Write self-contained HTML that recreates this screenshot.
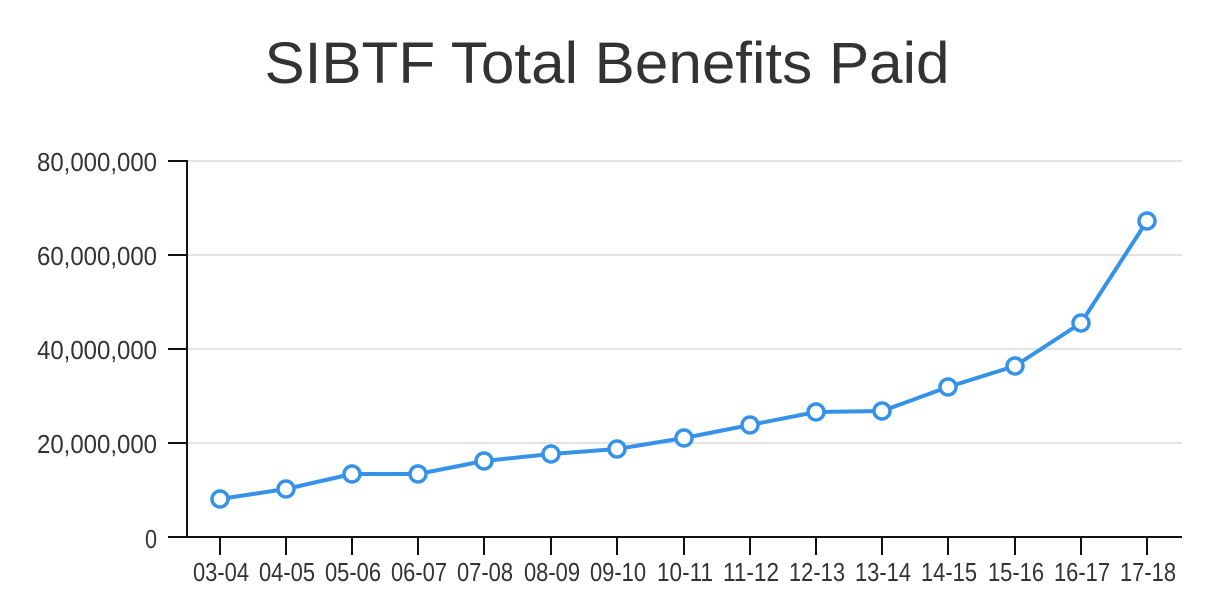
<!DOCTYPE html>
<html><head><meta charset="utf-8"><style>
html,body{margin:0;padding:0;background:#fff;}
svg{display:block;}
</style></head><body>
<svg width="1226" height="602" xmlns="http://www.w3.org/2000/svg">
<text x="607" y="83" text-anchor="middle" font-family="Liberation Sans, sans-serif" font-size="58" fill="#333" textLength="685" lengthAdjust="spacingAndGlyphs">SIBTF Total Benefits Paid</text>
<g stroke="#e3e3e3" stroke-width="2">
<line x1="187" y1="161" x2="1182" y2="161"/>
<line x1="187" y1="255" x2="1182" y2="255"/>
<line x1="187" y1="349" x2="1182" y2="349"/>
<line x1="187" y1="443" x2="1182" y2="443"/>
</g>
<g stroke="#111" stroke-width="2">
<line x1="187" y1="160" x2="187" y2="537"/>
<line x1="168" y1="537" x2="1182" y2="537"/>
<line x1="168" y1="161" x2="187" y2="161"/>
<line x1="168" y1="255" x2="187" y2="255"/>
<line x1="168" y1="349" x2="187" y2="349"/>
<line x1="168" y1="443" x2="187" y2="443"/>
<line x1="220" y1="537" x2="220" y2="555"/>
<line x1="286" y1="537" x2="286" y2="555"/>
<line x1="352" y1="537" x2="352" y2="555"/>
<line x1="418" y1="537" x2="418" y2="555"/>
<line x1="484" y1="537" x2="484" y2="555"/>
<line x1="551" y1="537" x2="551" y2="555"/>
<line x1="617" y1="537" x2="617" y2="555"/>
<line x1="684" y1="537" x2="684" y2="555"/>
<line x1="750" y1="537" x2="750" y2="555"/>
<line x1="816" y1="537" x2="816" y2="555"/>
<line x1="882" y1="537" x2="882" y2="555"/>
<line x1="948" y1="537" x2="948" y2="555"/>
<line x1="1015" y1="537" x2="1015" y2="555"/>
<line x1="1081" y1="537" x2="1081" y2="555"/>
<line x1="1147" y1="537" x2="1147" y2="555"/>
</g>
<g font-family="Liberation Sans, sans-serif" font-size="26" fill="#333" text-anchor="end">
<text x="157" y="171" textLength="120" lengthAdjust="spacingAndGlyphs">80,000,000</text>
<text x="157" y="265" textLength="120" lengthAdjust="spacingAndGlyphs">60,000,000</text>
<text x="157" y="359" textLength="120" lengthAdjust="spacingAndGlyphs">40,000,000</text>
<text x="157" y="453" textLength="120" lengthAdjust="spacingAndGlyphs">20,000,000</text>
<text x="157" y="548" textLength="12" lengthAdjust="spacingAndGlyphs">0</text>
</g>
<g font-family="Liberation Sans, sans-serif" font-size="26" fill="#333" text-anchor="middle">
<text x="221" y="581" textLength="56" lengthAdjust="spacingAndGlyphs">03-04</text>
<text x="287" y="581" textLength="56" lengthAdjust="spacingAndGlyphs">04-05</text>
<text x="353" y="581" textLength="56" lengthAdjust="spacingAndGlyphs">05-06</text>
<text x="419" y="581" textLength="56" lengthAdjust="spacingAndGlyphs">06-07</text>
<text x="485" y="581" textLength="56" lengthAdjust="spacingAndGlyphs">07-08</text>
<text x="552" y="581" textLength="56" lengthAdjust="spacingAndGlyphs">08-09</text>
<text x="618" y="581" textLength="56" lengthAdjust="spacingAndGlyphs">09-10</text>
<text x="685" y="581" textLength="56" lengthAdjust="spacingAndGlyphs">10-11</text>
<text x="751" y="581" textLength="56" lengthAdjust="spacingAndGlyphs">11-12</text>
<text x="817" y="581" textLength="56" lengthAdjust="spacingAndGlyphs">12-13</text>
<text x="883" y="581" textLength="56" lengthAdjust="spacingAndGlyphs">13-14</text>
<text x="949" y="581" textLength="56" lengthAdjust="spacingAndGlyphs">14-15</text>
<text x="1016" y="581" textLength="56" lengthAdjust="spacingAndGlyphs">15-16</text>
<text x="1082" y="581" textLength="56" lengthAdjust="spacingAndGlyphs">16-17</text>
<text x="1148" y="581" textLength="56" lengthAdjust="spacingAndGlyphs">17-18</text>
</g>
<polyline fill="none" stroke="#3592e8" stroke-width="4" stroke-linejoin="round" points="220,499 286,489 352,474 418,474 484,461 551,454 617,449 684,438 750,425 816,412 882,411 948,387 1015,366 1081,323 1147,221"/>
<g fill="#fff" stroke="#3592e8" stroke-width="3.5">
<circle cx="220" cy="499" r="8"/><circle cx="286" cy="489" r="8"/><circle cx="352" cy="474" r="8"/><circle cx="418" cy="474" r="8"/><circle cx="484" cy="461" r="8"/><circle cx="551" cy="454" r="8"/><circle cx="617" cy="449" r="8"/><circle cx="684" cy="438" r="8"/><circle cx="750" cy="425" r="8"/><circle cx="816" cy="412" r="8"/><circle cx="882" cy="411" r="8"/><circle cx="948" cy="387" r="8"/><circle cx="1015" cy="366" r="8"/><circle cx="1081" cy="323" r="8"/><circle cx="1147" cy="221" r="8"/>
</g>
</svg>
</body></html>
